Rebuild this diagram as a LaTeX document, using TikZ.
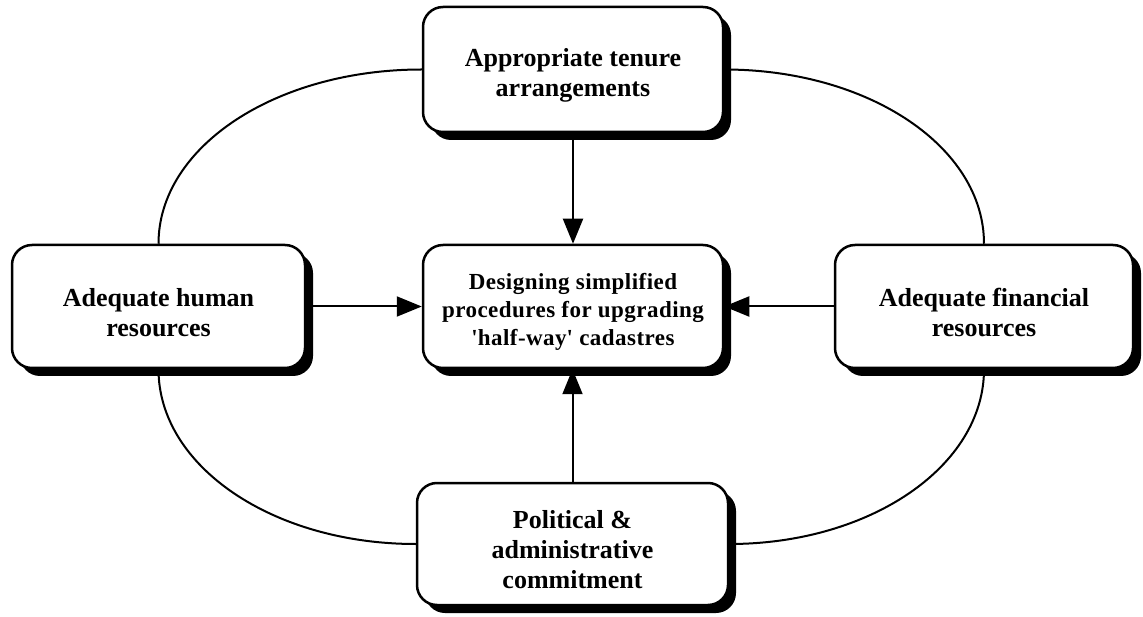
\documentclass[tikz,border=0pt]{standalone}
\usepackage{fontspec}
\setmainfont{Liberation Serif}
\newfontfamily\spacedserif[LetterSpace=2]{Liberation Serif}
\usetikzlibrary{arrows.meta,shadows,backgrounds}
% raises the first line so the text block sits a little low in its box
\newcommand\boxstrut[1]{\rule{0pt}{#1}}
\begin{document}
\begin{tikzpicture}[x=1pt,y=-1pt,
  factor/.style={draw, line width=2.5pt, rounded corners=20pt, fill=white,
    align=center, inner sep=0pt,
    font=\fontsize{26}{30}\selectfont\bfseries,
    drop shadow={shadow xshift=8pt, shadow yshift=-8pt, fill=black, opacity=1}},
  link/.style={line width=2pt, -{Triangle[length=25pt,width=20pt]}},
  ring/.style={line width=2pt}
]
\useasboundingbox (0,0) rectangle (1143,617);

% the five boxes
\node[factor, minimum width=300pt, minimum height=125pt] (tenure) at (573,69.5)
  {\boxstrut{30pt}Appropriate tenure\\arrangements};
\node[factor, minimum width=300pt, minimum height=123pt,
  font=\spacedserif\bfseries\fontsize{23}{28}\selectfont] (core) at (573,306.5)
  {\boxstrut{26pt}Designing simplified\\procedures for upgrading\\\textquotesingle half-way\textquotesingle{} cadastres};
\node[factor, minimum width=293pt, minimum height=123pt] (human) at (158.5,306.5)
  {\boxstrut{30pt}Adequate human\\resources};
\node[factor, minimum width=298pt, minimum height=123pt] (finance) at (984,306.5)
  {\boxstrut{30pt}Adequate financial\\resources};
\node[factor, minimum width=311pt, minimum height=122pt] (commit) at (572.5,544)
  {\boxstrut{30pt}Political \&\\administrative\\commitment};

% the ring of quarter arcs linking the outer boxes
\begin{scope}[on background layer]
  \draw[ring] (tenure.west) .. controls +(-146,0) and +(0,-97) .. (human.north);
  \draw[ring] (tenure.east) .. controls +(144,0) and +(0,-97) .. (finance.north);
  \draw[ring] (human.south) .. controls +(0,97) and +(-143,0) .. (commit.west);
  \draw[ring] (finance.south) .. controls +(0,97) and +(141,0) .. (commit.east);
\end{scope}

% arrows into the central box
\draw[link] (tenure.south) -- (core.north);
\draw[link] (human.east) -- (core.west);
\draw[link] (finance.west) -- (core.east);
\draw[link] (commit.north) -- (commit.north |- core.south);
\end{tikzpicture}
\end{document}
